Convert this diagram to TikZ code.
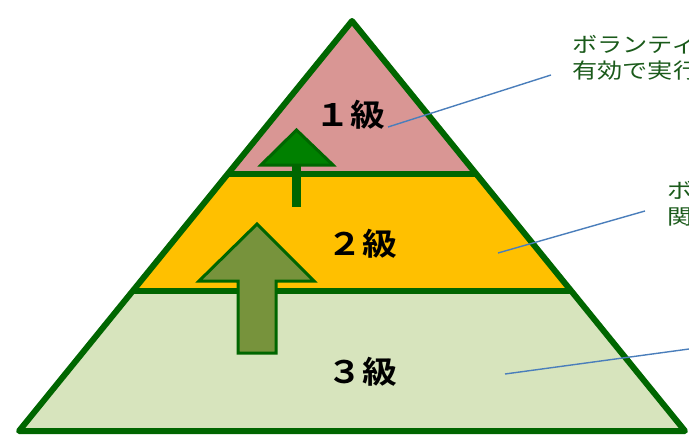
\documentclass[tikz,border=0pt]{standalone}
\usepackage{fontspec}
\newfontfamily\jpwide[FakeStretch=1.2]{Noto Sans CJK JP}
\newfontfamily\jplevel[FakeStretch=1.12]{Noto Sans CJK JP Bold}
\definecolor{edgegreen}{HTML}{006600}
\definecolor{pinkband}{HTML}{D99694}
\definecolor{goldband}{HTML}{FFC000}
\definecolor{paleband}{HTML}{D7E4BD}
\definecolor{headgreen}{HTML}{008000}
\definecolor{olivearrow}{HTML}{77933C}
\definecolor{callblue}{HTML}{4A7EBB}
\definecolor{notegreen}{HTML}{1A5A1A}
\tikzset{
  band/.style={line width=6pt, draw=edgegreen, line join=round},
  level/.style={font=\jplevel\fontsize{31}{34}\selectfont, text=black, inner sep=0pt},
  note/.style={font=\jpwide\fontsize{21}{26.5}\selectfont, text=notegreen, inner sep=0pt, anchor=north west, align=left},
  callout/.style={draw=callblue, line width=1.4pt},
  uparrow/.style={draw=edgegreen, line width=3pt, line join=miter},
}
\begin{document}
\begin{tikzpicture}[x=1pt,y=-1pt]
\useasboundingbox (0,0) rectangle (689,437);
% coordinates of pyramid (centre lines)
\coordinate (apex) at (352,21);
\coordinate (l1) at (229,174); \coordinate (r1) at (475,174);
\coordinate (l2) at (134,291); \coordinate (r2) at (570,291);
\coordinate (l3) at (19,431);  \coordinate (r3) at (685,431);
% bands
\fill[paleband] (l2) -- (r2) -- (r3) -- (l3) -- cycle;
\fill[goldband] (l1) -- (r1) -- (r2) -- (l2) -- cycle;
\fill[pinkband] (apex) -- (r1) -- (l1) -- cycle;
\draw[band] (l1) -- (r1);
\draw[band] (l2) -- (r2);
\draw[band] (apex) -- (r3) -- (l3) -- cycle;
% arrows
\draw[uparrow, fill=headgreen] (296.5,165) -- (333,165) -- (296.5,130) -- (261,165) -- cycle;
\draw[edgegreen, line width=9pt] (296.5,165) -- (296.5,207);
\draw[uparrow, fill=olivearrow] (238,353) -- (276,353) -- (276,281) -- (314,281) -- (257,224) -- (199,281) -- (238,281) -- cycle;
% level labels
\node[level] (lv1) at (350,115) {１級};
\node[level] (lv2) at (362,244) {２級};
\node[level] (lv3) at (362,372) {３級};
% notes
\node[note] (n1) at (572,35) {ボランティ\\有効で実行};
\node[note] (n2) at (667,181) {ボ\\関};
\coordinate (n3) at (689,349);
% callouts
\coordinate (c1) at (388,127);
\coordinate (c2) at (498,253);
\coordinate (c3) at (505,374);
\coordinate (e1) at (551,75);
\coordinate (e2) at (645,211);
\draw[callout] (c1) -- (e1);
\draw[callout] (c2) -- (e2);
\draw[callout] (c3) -- (n3);
\end{tikzpicture}
\end{document}
